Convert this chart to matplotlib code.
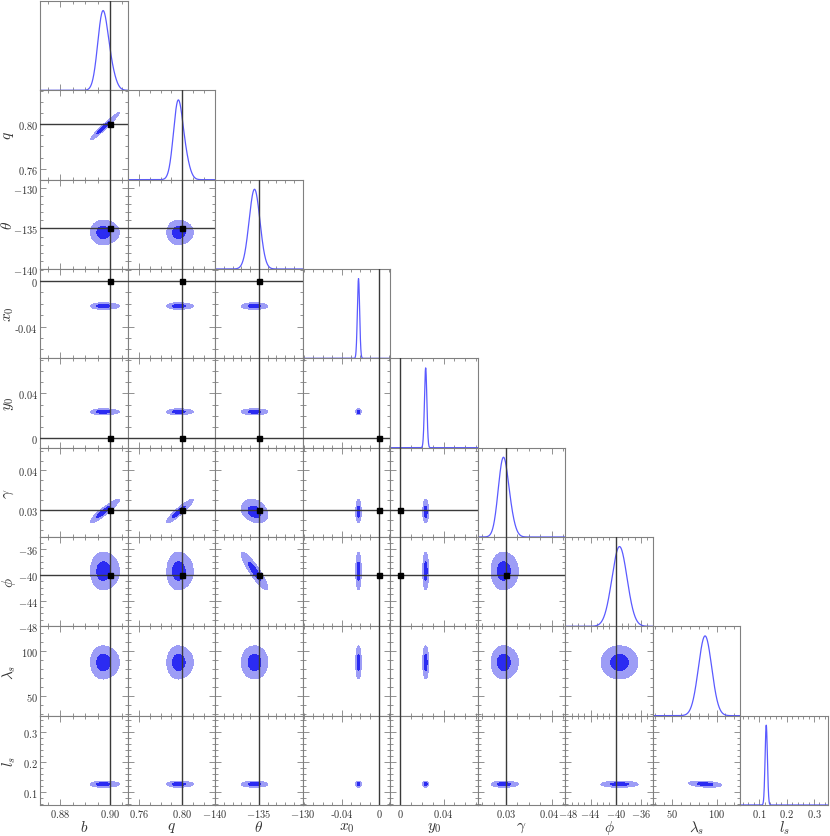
import numpy as np
import matplotlib
matplotlib.use("Agg")
import matplotlib.pyplot as plt
import matplotlib.transforms as mtransforms
from matplotlib.ticker import FixedLocator, MultipleLocator, NullFormatter

plt.rcParams['mathtext.fontset'] = 'cm'
plt.rcParams['font.family'] = ['DejaVu Serif']

# ---------------- data ----------------
labels = [r'$b$', r'$q$', r'$\theta$', r'$x_0$', r'$y_0$', r'$\gamma$', r'$\phi$', r'$\lambda_s$', r'$l_s$']
truths = [0.90, 0.80, -135.0, 0.0, 0.0, 0.03, -40.0, None, None]
modes = [0.8970, 0.7960, -135.5, -0.022, 0.0235, 0.0294, -39.4, 87.0, 0.126]
sigmas = [0.0020, 0.0042, 0.62, 0.0012, 0.0011, 0.00105, 1.2, 7.5, 0.0042]
tail_shift = [1.6, 1.6, 0.0, 0.0, 0.0, 1.4, 0.0, 0.0, 0.0]   # in sigma units
tail_weight = 0.2
correlations = {(0, 1): 0.96, (0, 5): 0.90, (1, 5): 0.90, (2, 6): -0.90,
                (2, 5): -0.30, (7, 8): -0.30}
credible_levels = [0.95, 0.5]

xlims = [(0.8718, 0.9071), (0.7495, 0.8305), (-140, -130), (-0.0815, 0.0118),
         (-0.0092, 0.0716), (0.0240, 0.0429), (-48, -34.1), (28, 127), (0.032, 0.351)]
ylims = [(0.8718, 0.9071), (0.7502, 0.8302), (-140, -129), (-0.068, 0.0106),
         (-0.0088, 0.0716), (0.02325, 0.04575), (-48, -34.1), (28, 127), (0.057, 0.353)]
major_ticks = [[0.88, 0.90], [0.76, 0.80], [-140, -135, -130], [-0.04, 0.0],
               [0.0, 0.04], [0.03, 0.04], [-48, -44, -40, -36], [50, 100], [0.1, 0.2, 0.3]]
tick_labels = [["$0.88$", "$0.90$"], ["$0.76$", "$0.80$"], ["$-140$", "$-135$", "$-130$"],
               ["-$0.04$", "$0$"], ["$0$", "$0.04$"], ["$0.03$", "$0.04$"],
               ["$-48$", "$-44$", "$-40$", "$-36$"], ["$50$", "$100$"],
               ["$0.1$", "$0.2$", "$0.3$"]]
minor_steps = [0.005, 0.01, 1, 0.01, 0.01, 0.0025, 1, 10, 0.02]

# ---------------- style ----------------
inner_col = '#2b2bf2'
outer_col = '#9d9df6'
line_col = '#5a5aff'
truth_col = '#3a3a3a'
frame_col = '#808080'
text_col = '#333333'

n = len(labels)
W, H = 830, 837
fig = plt.figure(figsize=(W / 100, H / 100), dpi=100)
L, R, T, B = 40, 828, 2, 806
cw = (R - L) / n
ch = (B - T) / n


def corr(i, j):
    if i == j:
        return 1.0
    return correlations.get((min(i, j), max(i, j)), 0.0)


def pdf1(x, k):
    m, s = modes[k], sigmas[k]
    m2 = m + tail_shift[k] * s
    g1 = np.exp(-0.5 * ((x - m) / s) ** 2)
    g2 = np.exp(-0.5 * ((x - m2) / s) ** 2)
    return (1 - tail_weight) * g1 + tail_weight * g2


def gauss2(X, Y, mx, my, sx, sy, r):
    zx = (X - mx) / sx
    zy = (Y - my) / sy
    qf = (zx ** 2 - 2 * r * zx * zy + zy ** 2) / (1 - r ** 2)
    return np.exp(-0.5 * qf)


def pdf2(X, Y, j, i):
    r = corr(i, j)
    sx, sy = sigmas[j], sigmas[i]
    g1 = gauss2(X, Y, modes[j], modes[i], sx, sy, r)
    g2 = gauss2(X, Y, modes[j] + tail_shift[j] * sx, modes[i] + tail_shift[i] * sy, sx, sy, r)
    return (1 - tail_weight) * g1 + tail_weight * g2


def nudge(label, dx_px):
    off = mtransforms.ScaledTranslation(dx_px / 100, 0, fig.dpi_scale_trans)
    label.set_transform(label.get_transform() + off)


def style_axis(ax, j, i, diag):
    for sp in ax.spines.values():
        sp.set_color(frame_col)
        sp.set_linewidth(0.8)
    ax.xaxis.set_major_locator(FixedLocator(major_ticks[j]))
    ax.xaxis.set_minor_locator(MultipleLocator(minor_steps[j]))
    if diag:
        ax.set_yticks([])
    else:
        ax.yaxis.set_major_locator(FixedLocator(major_ticks[i]))
        ax.yaxis.set_minor_locator(MultipleLocator(minor_steps[i]))
    ax.tick_params(which='both', direction='in', top=True, right=not diag, left=not diag,
                   color=frame_col, width=0.6, labelsize=7.5, labelcolor=text_col, pad=1.5)
    ax.tick_params(which='major', length=4)
    ax.tick_params(which='minor', length=2.2)
    if i == n - 1:
        ax.set_xticklabels(tick_labels[j])
        ax.set_xlabel(labels[j], fontsize=11, color=text_col, va='center')
        ax.xaxis.set_label_coords(0.5, -(828 - 806) / ch)
        tl = ax.get_xticklabels()
        if j == 5:
            nudge(tl[-1], -3)
        if j == 6:
            nudge(tl[0], 3)
    else:
        ax.xaxis.set_major_formatter(NullFormatter())
    if j == 0 and not diag:
        ax.set_yticklabels(tick_labels[i])
        ax.set_ylabel(labels[i], fontsize=11, color=text_col, va='center')
        lx = 7 if i == 2 else 9
        ax.yaxis.set_label_coords(-(40 - lx) / cw, 0.5)
    elif not diag:
        ax.yaxis.set_major_formatter(NullFormatter())


for i in range(n):
    for j in range(i + 1):
        x0 = (L + j * cw) / W
        y0 = 1 - (T + (i + 1) * ch) / H
        ax = fig.add_axes([x0, y0, cw / W, ch / H])
        if i == j:
            xs = np.linspace(xlims[j][0], xlims[j][1], 600)
            ys = pdf1(xs, j)
            ax.plot(xs, ys, color=line_col, lw=0.9)
            ax.set_ylim(0, ys.max() * 1.12)
            ax.set_xlim(*xlims[j])
            if truths[j] is not None:
                ax.axvline(truths[j], color=truth_col, lw=1.0, zorder=3)
            style_axis(ax, j, i, True)
        else:
            gx = np.linspace(xlims[j][0], xlims[j][1], 400)
            gy = np.linspace(ylims[i][0], ylims[i][1], 400)
            X, Y = np.meshgrid(gx, gy)
            Z = pdf2(X, Y, j, i)
            flat = np.sort(Z.ravel())[::-1]
            cum = np.cumsum(flat) / flat.sum()
            thr = [flat[np.searchsorted(cum, lv)] for lv in credible_levels]
            ax.contourf(X, Y, Z, levels=[thr[0], thr[1], Z.max() * 1.01],
                        colors=[outer_col, inner_col], zorder=1)
            ax.set_xlim(*xlims[j])
            ax.set_ylim(*ylims[i])
            if truths[j] is not None:
                ax.axvline(truths[j], color=truth_col, lw=1.0, zorder=3)
            if truths[i] is not None:
                ax.axhline(truths[i], color=truth_col, lw=1.0, zorder=3)
            if truths[i] is not None and truths[j] is not None:
                ax.plot([truths[j]], [truths[i]], marker='s', ms=3.6, color='black',
                        zorder=4, clip_on=False)
            style_axis(ax, j, i, False)

fig.savefig("out.png", dpi=100)
